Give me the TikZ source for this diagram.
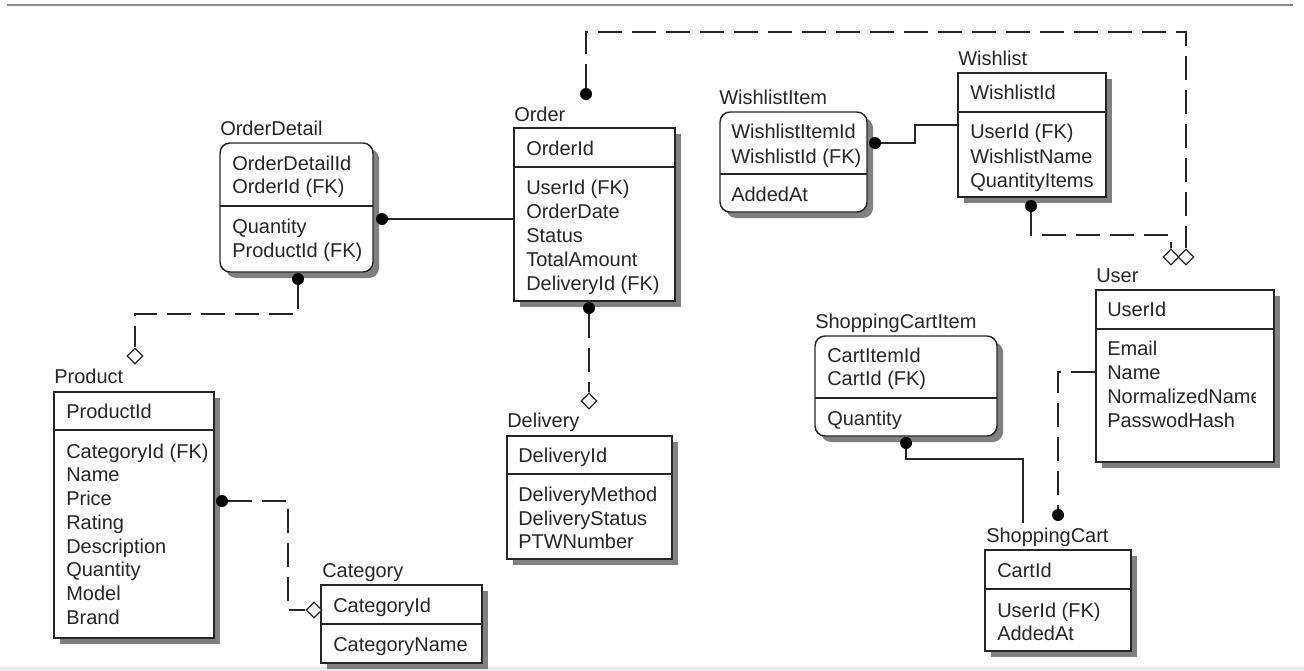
\documentclass[tikz,border=0pt]{standalone}
\usepackage{fontspec}
\setmainfont{Liberation Sans}
\usetikzlibrary{shapes.geometric,fit,shadows}
\begin{document}
\begin{tikzpicture}[x=0.75pt,y=-0.75pt,
 ent/.style={draw=black!85, line width=1.1pt, fill=white, inner sep=0pt,
   general shadow={shadow xshift=4.5pt, shadow yshift=-4.5pt, fill=black!50}},
 dep/.style={ent, rounded corners=7.5pt},
 ttl/.style={anchor=base west, inner sep=0pt, font=\fontsize{15}{18}\selectfont, text=black!85},
 att/.style={ttl},
 div/.style={draw=black!85, line width=1.1pt},
 rel/.style={draw=black!85, line width=1pt},
 fk/.style={rel, dash pattern=on 18pt off 7.5pt},
 dot/.style={circle, fill=black, inner sep=0pt, minimum size=9pt},
 dia/.style={diamond, draw=black!85, fill=white, line width=0.9pt, inner sep=0pt, minimum width=12pt, minimum height=12pt},
]
\useasboundingbox (0,0) rectangle (1304,671);
\fill[white] (0,0) rectangle (1304,671);
\draw[black!45, line width=1.5pt] (7,5) -- (1293,5);
\fill[black!8] (0,667) rectangle (1304,671);

% OrderDetail
\node[dep, fit={(220,143) (373,272)}] (od) {};
\draw[div] (220,206) -- (373,206);
\node[ttl] (odT) at (220,135) {OrderDetail};
\node[att] (od1) at (232,170) {OrderDetailId};
\node[att] (od2) at (232,193) {OrderId (FK)};
\node[att] (od3) at (232,233) {Quantity};
\node[att] (od4) at (232,257) {ProductId (FK)};

% Order
\node[ent, fit={(514,128) (675,301)}] (ord) {};
\draw[div] (514,167) -- (675,167);
\node[ttl] (ordT) at (514,121) {Order};
\node[att] (ord1) at (526,155) {OrderId};
\node[att] (ord2) at (526,194) {UserId (FK)};
\node[att] (ord3) at (526,218) {OrderDate};
\node[att] (ord4) at (526,242) {Status};
\node[att] (ord5) at (526,266) {TotalAmount};
\node[att] (ord6) at (526,290) {DeliveryId (FK)};

% WishlistItem
\node[dep, fit={(720,112) (867,212)}] (wi) {};
\draw[div] (720,174) -- (867,174);
\node[ttl] (wiT) at (719,104) {WishlistItem};
\node[att] (wi1) at (731,138) {WishlistItemId};
\node[att] (wi2) at (731,163) {WishlistId (FK)};
\node[att] (wi3) at (731,201) {AddedAt};

% Wishlist
\node[ent, fit={(958,73) (1106,197)}] (wl) {};
\draw[div] (958,112) -- (1106,112);
\node[ttl] (wlT) at (958,65) {Wishlist};
\node[att] (wl1) at (970,99) {WishlistId};
\node[att] (wl2) at (970,138) {UserId (FK)};
\node[att] (wl3) at (970,163) {WishlistName};
\node[att] (wl4) at (970,187) {QuantityItems};

% User
\node[ent, fit={(1096,290) (1274,462)}] (user) {};
\draw[div] (1096,329) -- (1274,329);
\node[ttl] (userT) at (1096,282) {User};
\begin{scope}
\clip (1096,290) rectangle (1255,462);
\node[att] (user1) at (1107,316) {UserId};
\node[att] (user2) at (1107,355) {Email};
\node[att] (user3) at (1107,379) {Name};
\node[att] (user4) at (1107,403) {NormalizedName};
\node[att] (user5) at (1107,427) {PasswodHash};
\end{scope}

% ShoppingCartItem
\node[dep, fit={(815,336) (997,436)}] (sci) {};
\draw[div] (815,398) -- (997,398);
\node[ttl] (sciT) at (815,328) {ShoppingCartItem};
\node[att] (sci1) at (827,362) {CartItemId};
\node[att] (sci2) at (827,385) {CartId (FK)};
\node[att] (sci3) at (827,425) {Quantity};

% ShoppingCart
\node[ent, fit={(985,550) (1131,651)}] (sc) {};
\draw[div] (985,589) -- (1131,589);
\node[ttl] (scT) at (986,542) {ShoppingCart};
\node[att] (sc1) at (997,577) {CartId};
\node[att] (sc2) at (997,617) {UserId (FK)};
\node[att] (sc3) at (997,640) {AddedAt};

% Product
\node[ent, fit={(54,392) (214,638)}] (prod) {};
\draw[div] (54,430) -- (214,430);
\node[ttl] (prodT) at (54,383) {Product};
\node[att] (prod1) at (66,418) {ProductId};
\node[att] (prod2) at (66,458) {CategoryId (FK)};
\node[att] (prod3) at (66,481) {Name};
\node[att] (prod4) at (66,505) {Price};
\node[att] (prod5) at (66,529) {Rating};
\node[att] (prod6) at (66,553) {Description};
\node[att] (prod7) at (66,576) {Quantity};
\node[att] (prod8) at (66,600) {Model};
\node[att] (prod9) at (66,624) {Brand};

% Category
\node[ent, fit={(321,585) (482,663)}] (cat) {};
\draw[div] (321,624) -- (482,624);
\node[ttl] (catT) at (322,577) {Category};
\node[att] (cat1) at (333,612) {CategoryId};
\node[att] (cat2) at (333,651) {CategoryName};

% Delivery
\node[ent, fit={(507,436) (672,559)}] (del) {};
\draw[div] (507,474) -- (672,474);
\node[ttl] (delT) at (507,427) {Delivery};
\node[att] (del1) at (518,462) {DeliveryId};
\node[att] (del2) at (518,501) {DeliveryMethod};
\node[att] (del3) at (518,525) {DeliveryStatus};
\node[att] (del4) at (518,548) {PTWNumber};

% markers
\node[dot] (d1) at (382,219) {};
\node[dot] (d2) at (298,279) {};
\node[dot] (d3) at (586,94) {};
\node[dot] (d4) at (1031,206) {};
\node[dot] (d5) at (875,143) {};
\node[dot] (d6) at (589,308) {};
\node[dot] (d7) at (222,501) {};
\node[dot] (d8) at (906,443) {};
\node[dot] (d9) at (1058,515) {};
\node[dia] (dmP) at (135,356) {};
\node[dia] (dmD) at (589,401) {};
\node[dia] (dmC) at (314,610) {};
\node[dia] (dmU1) at (1171,257) {};
\node[dia] (dmU2) at (1186,257) {};
\coordinate (scTop) at (1023,523);

% connectors
\draw[rel] (d1) -- (d1 -| ord.west);
\draw[fk] (d2) -- ++(0,35) -| (dmP);
\draw[fk] (d3) -- ++(0,-62) -| (dmU2);
\draw[fk] (d4) -- ++(0,29) -| (dmU1);
\draw[rel] (d5) -- ++(40,0) |- ([yshift=7.5pt]wl.west);
\draw[fk] (d6) -- (dmD);
\draw[fk] (d7) -- ++(66,0) |- (dmC);
\draw[rel] (d8) -- ++(0,16) -| (scTop);
\draw[fk] ([yshift=3pt]user.west) -| (d9);
\end{tikzpicture}
\end{document}
